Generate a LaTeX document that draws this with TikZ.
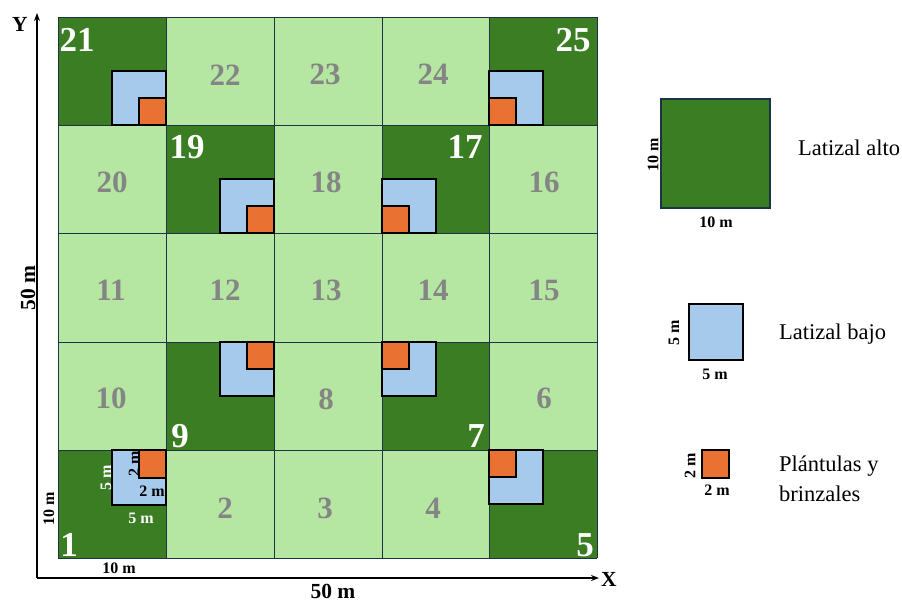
\documentclass[tikz,border=0pt]{standalone}
\usepackage{fontspec}
\setmainfont{Liberation Serif}
\usetikzlibrary{arrows.meta}
\definecolor{dkgreen}{HTML}{3B7D23}
\definecolor{ltgreen}{HTML}{B5E6A2}
\definecolor{ltblue}{HTML}{A6CAEC}
\definecolor{orng}{HTML}{E97132}
\definecolor{gridline}{HTML}{1B3444}
\definecolor{numgray}{HTML}{858585}
\begin{document}
\begin{tikzpicture}[x=1pt,y=-1pt,
  cellline/.style={draw=gridline,line width=0.9pt},
  bluebox/.style={fill=ltblue,draw=black,line width=1.3pt},
  orangebox/.style={fill=orng,draw=black,line width=1.3pt},
  whitenum/.style={inner sep=0pt,text=white,font=\fontsize{35}{35}\selectfont\bfseries},
  graynum/.style={inner sep=0pt,text=numgray,font=\fontsize{31}{31}\selectfont\bfseries},
  smalllab/.style={inner sep=0pt,font=\fontsize{16}{16}\selectfont\bfseries},
  axislab/.style={inner sep=0pt,font=\fontsize{21.5}{22}\selectfont\bfseries},
  legtext/.style={inner sep=0pt,anchor=west,font=\fontsize{22.5}{25}\selectfont},
  axisline/.style={line width=1.4pt,-{Stealth[length=8pt,width=6pt]}}]
\useasboundingbox (0,0) rectangle (902,603);
% background of grid
\fill[ltgreen] (58,17) rectangle (597,558);
% dark cells
\foreach \xa/\ya/\xb/\yb in {58/17/166/125,489/17/597/125,166/125/274/233,382/125/489/233,166/342/274/450,382/342/489/450,58/450/166/558,489/450/597/558}
  \fill[dkgreen] (\xa,\ya) rectangle (\xb,\yb);
% grid lines
\foreach \x in {58,166,274,382,489,597} \draw[cellline] (\x,17) -- (\x,558);
\foreach \y in {17,125,233,342,450,558} \draw[cellline] (58,\y) -- (597,\y);
% sub-plots
\foreach \bxa/\bya/\bxb/\byb/\oxa/\oya/\oxb/\oyb in {
  112/71/166/125/139/98/166/125,
  489/71/543/125/489/98/516/125,
  220/179/274/233/247/206/274/233,
  382/179/436/233/382/206/409/233,
  220/342/274/396/247/342/274/369,
  382/342/436/396/382/342/409/369,
  112/450/166/505/139/450/166/478,
  489/450/543/504/489/450/516/477}
{
  \draw[bluebox] (\bxa,\bya) rectangle (\bxb,\byb);
  \draw[orangebox] (\oxa,\oya) rectangle (\oxb,\oyb);
}
% white numbers
\node[whitenum] (n21) at (77,40) {21};
\node[whitenum] (n25) at (573,40) {25};
\node[whitenum] (n19) at (187,147) {19};
\node[whitenum] (n17) at (465,147) {17};
\node[whitenum] (n9) at (180,436) {9};
\node[whitenum] (n7) at (476,436) {7};
\node[whitenum] (n1) at (69,545) {1};
\node[whitenum] (n5) at (585,545) {5};
% gray numbers
\foreach \t/\x/\y in {22/225/75,23/325/74,24/433/74,20/112/182,18/326/182,16/544/182,
  11/111/290,12/225/290,13/326/290,14/433/290,15/544/290,10/111/398,8/326/399,6/544/398,
  2/225/508,3/325/508,4/433/508}
  \node[graynum] (g\t) at (\x,\y) {\t};
% labels in plot 1
\node[smalllab,text=white,rotate=90] (l5v) at (106,478) {5 m};
\node[smalllab,rotate=90] (l2v) at (134,464) {2 m};
\node[smalllab] (l2h) at (152,491) {2 m};
\node[smalllab,text=white] (l5h) at (141,518) {5 m};
\node[smalllab,rotate=90] (l10v) at (49,509) {10 m};
\node[smalllab] (l10h) at (119,568) {10 m};
% axes
\coordinate (o) at (37,578);
\coordinate (ytip) at (37,13);
\coordinate (xtip) at (599,578);
\draw[axisline] (o) -- (ytip);
\draw[axisline] (o) -- (xtip);
\node[axislab] (ylab) at (20,24) {Y};
\node[axislab] (xlab) at (609,579) {X};
\node[axislab,rotate=90] (y50) at (28,288) {50 m};
\node[axislab] (x50) at (333,591) {50 m};
% legend
\draw[fill=dkgreen,draw=gridline,line width=1.3pt] (661,99) rectangle (770,208);
\node[smalllab,rotate=90] (lg10v) at (653,155) {10 m};
\node[smalllab] (lg10h) at (716,222) {10 m};
\node[legtext] (lgalto) at (798,148) {Latizal alto};
\draw[bluebox] (689,304) rectangle (743,360);
\node[smalllab,rotate=90] (lg5v) at (674,333) {5 m};
\node[smalllab] (lg5h) at (715,374) {5 m};
\node[legtext] (lgbajo) at (779,334) {Latizal bajo};
\draw[orangebox] (702,450) rectangle (729,478);
\node[smalllab,rotate=90] (lg2v) at (690,466) {2 m};
\node[smalllab] (lg2h) at (717,490) {2 m};
\node[legtext] (lgpl) at (779,466) {Plántulas y};
\node[legtext] (lgbr) at (779,494) {brinzales};
\end{tikzpicture}
\end{document}
